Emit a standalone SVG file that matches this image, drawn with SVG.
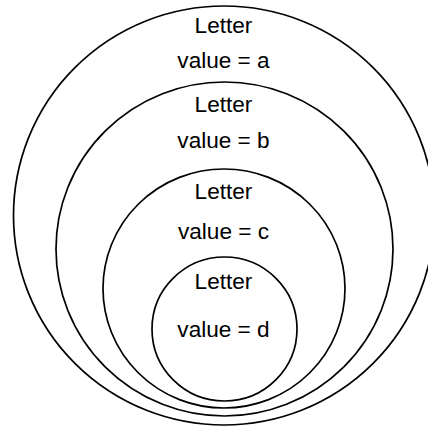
<svg xmlns="http://www.w3.org/2000/svg" width="428" height="428" viewBox="0 0 428 428">
<style>
.c{fill:none;stroke:#000;stroke-width:1.7}
.t{font-family:"Liberation Sans",Arial,sans-serif;font-size:22.6px;fill:#000;text-anchor:middle}
</style>
<rect width="428" height="428" fill="#fff"/>
<g id="letter-a">
<ellipse class="c" cx="224" cy="215.5" rx="210.5" ry="209.5"/>
<text class="t" x="223.5" y="33.3">Letter</text>
<text class="t" x="223.5" y="68.3">value = a</text>
</g>
<g id="letter-b">
<ellipse class="c" cx="224.5" cy="249" rx="168.5" ry="167"/>
<text class="t" x="223.5" y="112.3">Letter</text>
<text class="t" x="223.5" y="148.3">value = b</text>
</g>
<g id="letter-c">
<ellipse class="c" cx="224" cy="288.5" rx="121" ry="119.5"/>
<text class="t" x="223.5" y="199">Letter</text>
<text class="t" x="223.5" y="239.3">value = c</text>
</g>
<g id="letter-d">
<ellipse class="c" cx="224.5" cy="329" rx="72.5" ry="72"/>
<text class="t" x="223.5" y="288.7">Letter</text>
<text class="t" x="223.5" y="337">value = d</text>
</g>
<g id="connectors"/>
</svg>
